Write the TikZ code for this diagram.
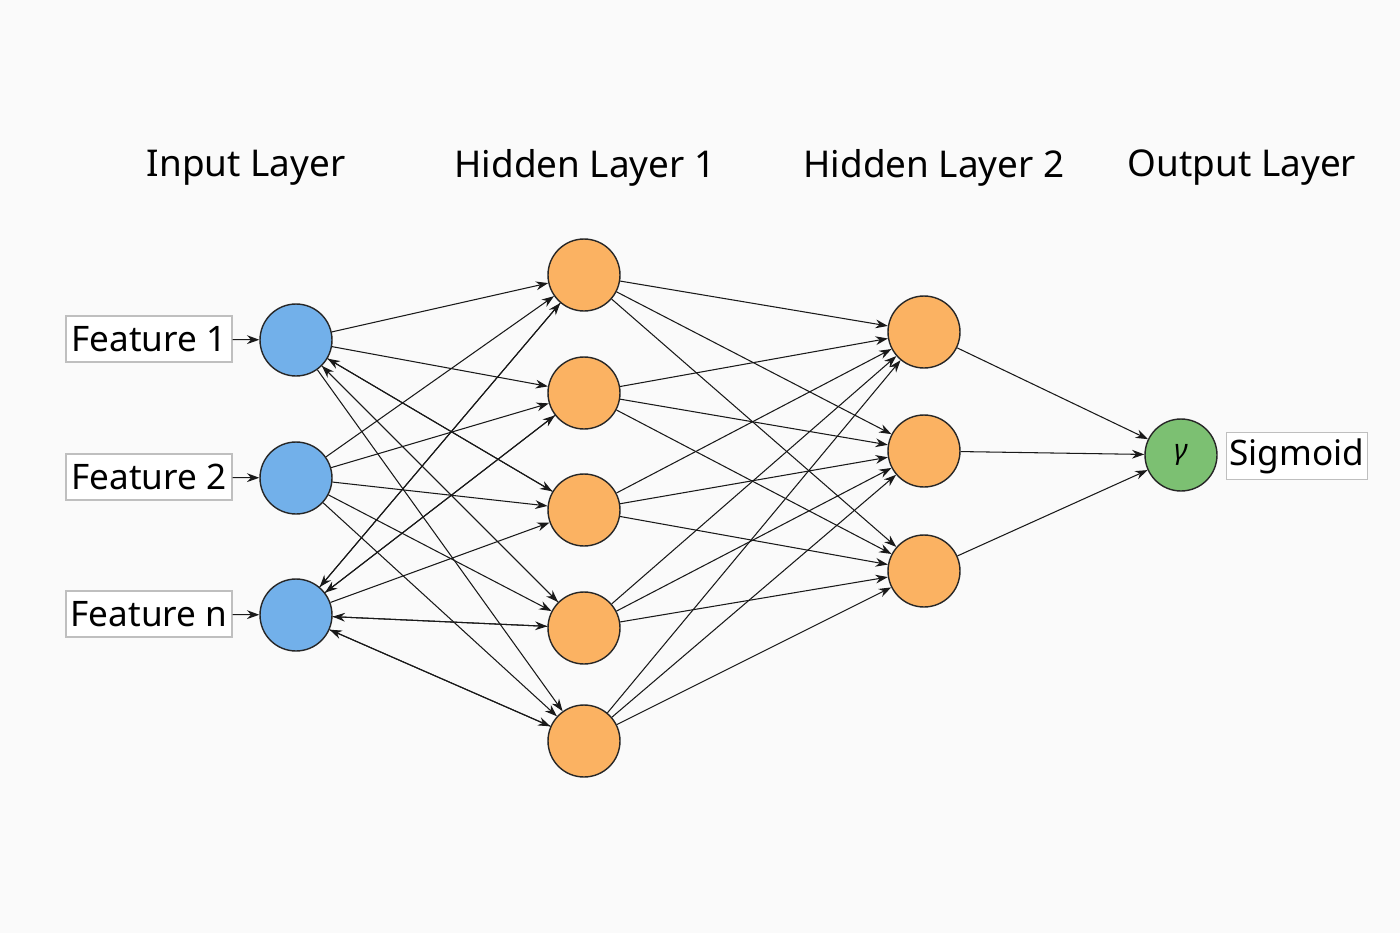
\documentclass[tikz,border=0pt]{standalone}
\usepackage{fontspec}
\setmainfont{Noto Sans}
\usetikzlibrary{arrows.meta}
\definecolor{inblue}{HTML}{72B0EA}
\definecolor{hidor}{HTML}{FBB262}
\definecolor{outgr}{HTML}{7CC072}
\begin{document}
\begin{tikzpicture}[x=0.02cm,y=-0.02cm,
  neuron/.style={circle,draw=black!85,line width=0.8pt,minimum size=1.44cm,inner sep=0pt},
  inn/.style={neuron,fill=inblue},
  hid/.style={neuron,fill=hidor},
  outn/.style={neuron,fill=outgr},
  lab/.style={draw=black!25,line width=0.6pt,font=\fontsize{20}{22}\selectfont,inner xsep=2pt,minimum height=0.92cm,fill=white},
  title/.style={font=\fontsize{21}{24}\selectfont},
  conn/.style={-{Stealth[length=7pt,width=5pt]},line width=0.6pt,black!90}]
\fill[white!98!black] (0,0) rectangle (1400,933);
\node[title] (t1) at (246,168) {Input Layer};
\node[title] (t2) at (585,168) {Hidden Layer 1};
\node[title] (t3) at (934,168) {Hidden Layer 2};
\node[title] (t4) at (1242,168) {Output Layer};
\node[inn] (i1) at (296,340) {};
\node[inn] (i2) at (296,478) {};
\node[inn] (i3) at (296,615) {};
\foreach \n/\y in {1/275,2/393,3/510,4/628,5/741} \node[hid] (h\n) at (584,\y) {};
\foreach \n/\y in {1/332,2/451,3/571} \node[hid] (g\n) at (924,\y) {};
\node[outn,font=\fontsize{16}{18}\selectfont] (o) at (1181,455) {\itshape γ};
\node[lab,minimum width=3.32cm] (f1) at (149,339) {Feature 1};
\node[lab,minimum width=3.32cm] (f2) at (149,477) {Feature 2};
\node[lab,minimum width=3.32cm] (f3) at (149,614) {Feature n};
\node[lab,minimum width=2.78cm] (s) at (1297,456) {Sigmoid};
\foreach \k in {1,2,3} \draw[conn] (f\k) -- (i\k);
\foreach \a in {1,2,3} \foreach \b in {1,...,5} \draw[conn] (i\a) -- (h\b);
\foreach \b in {1,2,4,5} \draw[conn] (h\b) -- (i3);
\foreach \b in {3,4} \draw[conn] (h\b) -- (i1);
\foreach \a in {1,...,5} \foreach \b in {1,2,3} \draw[conn] (h\a) -- (g\b);
\foreach \b in {1,2,3} \draw[conn] (g\b) -- (o);
\end{tikzpicture}
\end{document}
